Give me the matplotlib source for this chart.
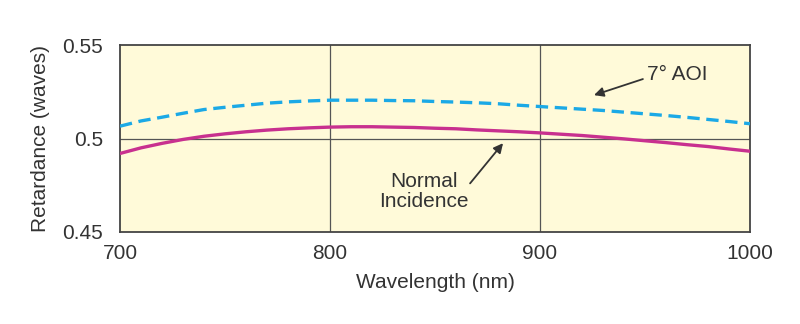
import matplotlib
matplotlib.use("Agg")
import matplotlib.pyplot as plt

wavelength = [700, 710, 720, 730, 740, 750, 760, 770, 780, 790,
              800, 810, 820, 830, 840, 850, 860, 870, 880, 890,
              900, 910, 920, 930, 940, 950, 960, 970, 980, 990, 1000]
normal_incidence = [0.4920, 0.4950, 0.4974, 0.4995, 0.5012, 0.5025, 0.5036, 0.5045, 0.5052, 0.5057,
                    0.5061, 0.5063, 0.5063, 0.5061, 0.5059, 0.5055, 0.5052, 0.5046, 0.5041, 0.5036,
                    0.5030, 0.5023, 0.5016, 0.5007, 0.4998, 0.4988, 0.4978, 0.4967, 0.4957, 0.4944,
                    0.4932]
aoi_7 = [0.5066, 0.5094, 0.5114, 0.5135, 0.5155, 0.5167, 0.5178, 0.5189, 0.5196, 0.5201,
         0.5205, 0.5205, 0.5205, 0.5203, 0.5202, 0.5198, 0.5195, 0.5191, 0.5186, 0.5178,
         0.5171, 0.5164, 0.5157, 0.5150, 0.5141, 0.5132, 0.5123, 0.5113, 0.5102, 0.5091,
         0.5079]
xticks = [700, 800, 900, 1000]
yticks = [0.45, 0.5, 0.55]
ytick_labels = ["0.45", "0.5", "0.55"]

plt.rcParams['font.family'] = ["Liberation Sans", "DejaVu Sans"]
TXT = "#333333"

fig = plt.figure(figsize=(8, 3.24), dpi=100)
ax = fig.add_axes([0.15, 0.284, 0.7875, 0.577])
ax.set_facecolor("#FFFAD9")
ax.set_xlim(700, 1000)
ax.set_ylim(0.45, 0.55)

for x in [800, 900]:
    ax.axvline(x, color="#555555", lw=0.9, zorder=1)
ax.axhline(0.5, color="#555555", lw=0.9, zorder=1)

ax.plot(wavelength, aoi_7, color="#1BA9E6", lw=2.4, dashes=(3.7, 2.0), zorder=3)
ax.plot(wavelength, normal_incidence, color="#C8308F", lw=2.4, zorder=3)

ax.set_xticks(xticks)
ax.set_xticklabels([str(v) for v in xticks])
ax.set_yticks(yticks)
ax.set_yticklabels(ytick_labels)
ax.tick_params(length=0, labelsize=15, colors=TXT)
ax.tick_params(axis="y", pad=12)
ax.tick_params(axis="x", pad=9)
for s in ax.spines.values():
    s.set_color("#444444")
    s.set_linewidth(1.3)

ax.set_xlabel("Wavelength (nm)", fontsize=15, color=TXT, labelpad=7)
ax.set_ylabel("Retardance (waves)", fontsize=15, color=TXT, labelpad=9)

arrow = dict(arrowstyle="-|>", color="#333333", lw=1.3, mutation_scale=14, shrinkA=0, shrinkB=0)
ax.text(951, 0.5340, "7° AOI", fontsize=15, color=TXT, va="center", ha="left")
ax.annotate("", xy=(925.7, 0.5232), xytext=(949, 0.5318), arrowprops=arrow)
ax.text(844.8, 0.4717, "Normal\nIncidence", fontsize=15, color=TXT, va="center", ha="center",
        multialignment="center", linespacing=1.05)
ax.annotate("", xy=(882.4, 0.4975), xytext=(866.7, 0.4760), arrowprops=arrow)

fig.savefig("out.png", dpi=100)
